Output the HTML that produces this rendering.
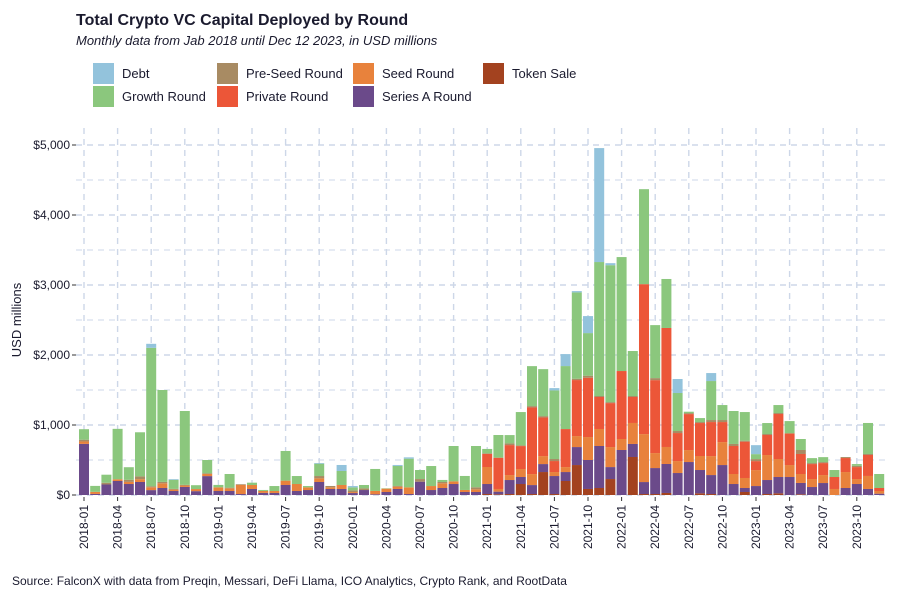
<!DOCTYPE html>
<html><head><meta charset="utf-8">
<style>
body{margin:0;background:#fff;font-family:"Liberation Sans",Arial,sans-serif;}
svg{display:block}
</style></head>
<body>
<svg id="chart" width="900" height="600" xmlns="http://www.w3.org/2000/svg">
<text x="76" y="25" font-size="16" font-weight="bold" fill="#1a1a2e">Total Crypto VC Capital Deployed by Round</text>
<text x="76" y="45" font-size="13" font-style="italic" fill="#1a1a2e">Monthly data from Jab 2018 until Dec 12 2023, in USD millions</text>
<g id="legend"></g>
<g id="grid"></g>
<g id="bars"></g>
<g id="axes"></g>
<text transform="translate(21,320) rotate(-90)" text-anchor="middle" font-size="13" fill="#1a1a2e">USD millions</text>
<text x="12" y="585" font-size="12" fill="#1a1a2e">Source: FalconX with data from Preqin, Messari, DeFi Llama, ICO Analytics, Crypto Rank, and RootData</text>
</svg>
<script>
const seriesNames = ["Debt","Growth Round","Pre-Seed Round","Private Round","Seed Round","Series A Round","Token Sale"];
const seriesColors = ["#93c3dc","#8bc77d","#a88b63","#ec5638","#e8823c","#6b4a8a","#a3421f"];
const debt = [0,0,0,0,0,0,57,0,10,0,0,0, 0,0,0,0,0,0,0,0,0,10,0,86, 19,0,0,0,14,19,0,0,0,0,0,0, 0,0,0,0,0,0,33,171,19,243,1628,29, 0,0,0,0,0,200,0,0,114,0,0,0, 128,0,0,0,0,0,0,0,0,0,0,0];
const growth = [150,85,115,720,180,630,1978,1313,130,1055,55,190, 35,195,0,33,14,71,424,114,19,176,0,200, 43,48,314,5,286,410,129,286,29,505,200,590, 62,324,119,476,571,671,980,900,1233,609,1914,1956, 1628,643,1357,757,700,543,20,57,557,214,471,409, 71,157,114,176,157,71,71,100,0,24,443,200];
const preSeed = [25,0,25,0,30,40,15,20,10,10,0,10, 0,10,10,0,0,0,0,0,0,33,19,0, 24,24,0,0,10,0,38,0,19,0,0,29, 10,0,24,10,19,19,29,0,19,29,14,14, 0,14,0,29,0,29,14,14,29,29,29,14, 29,14,14,0,57,14,14,0,14,19,14,0];
const privateRound = [0,0,0,0,0,0,0,0,0,0,0,0, 0,0,0,0,0,0,0,0,0,0,0,0, 0,0,0,0,0,0,0,0,0,0,0,0, 186,447,428,328,952,552,157,543,800,847,457,628, 971,371,2142,1042,1700,400,514,471,486,286,400,519, 128,286,643,452,286,214,171,171,200,171,300,43];
const seed = [35,30,0,25,30,40,40,67,20,20,30,30, 52,38,130,57,28,28,62,100,38,52,24,57, 14,0,48,48,33,95,0,57,67,38,29,38, 243,38,71,114,157,114,57,71,157,328,243,286, 157,300,685,214,243,171,171,200,271,328,143,143, 228,357,257,171,128,114,114,86,228,71,186,38];
const seriesA = [730,15,150,200,157,186,70,100,57,115,55,270, 57,57,14,86,30,29,143,57,71,186,86,86, 28,71,10,43,86,14,190,71,100,157,43,43, 143,38,200,100,128,114,257,128,257,414,600,171, 643,186,171,371,414,314,471,333,271,428,157,57, 128,200,233,257,162,114,171,0,100,157,86,19];
const tokenSale = [0,0,0,0,0,0,0,0,0,0,0,0, 0,0,0,0,0,0,0,0,0,0,0,0, 0,0,0,0,0,0,0,0,0,0,0,0, 14,10,14,157,14,328,14,200,428,86,100,228, 0,543,14,14,29,0,0,24,14,0,0,43, 0,14,24,0,10,0,0,0,0,0,0,0];
const yTicks = [0,1000,2000,3000,4000,5000];
const yTickLabels = ["$0","$1,000","$2,000","$3,000","$4,000","$5,000"];
const xTickLabels = ["2018-01","2018-04","2018-07","2018-10","2019-01","2019-04","2019-07","2019-10","2020-01","2020-04","2020-07","2020-10","2021-01","2021-04","2021-07","2021-10","2022-01","2022-04","2022-07","2022-10","2023-01","2023-04","2023-07","2023-10"];
const months = [];
for (let y = 2018; y <= 2023; y++) for (let m = 1; m <= 12; m++) months.push(y + "-" + String(m).padStart(2, "0"));

const NS = "http://www.w3.org/2000/svg";
const x0 = 84, pitch = 11.2, barW = 10;
const plotL = 76, plotR = 886, baseY = 495, pxPer = 0.07;
function xPos(i){ return x0 + i * pitch; }
function yPos(v){ return baseY - v * pxPer; }
function mk(tag, attrs, parent){ const e = document.createElementNS(NS, tag); for (const k in attrs) e.setAttribute(k, attrs[k]); parent.appendChild(e); return e; }

// grid
const grid = document.getElementById("grid");
for (let v = 0; v <= 5000; v += 500) {
  const ln = mk("line", {x1: plotL, x2: plotR, y1: yPos(v), y2: yPos(v), stroke: "#cdd7e8", "stroke-width": v % 1000 === 0 ? 1.4 : 1, "stroke-dasharray": "6,5"}, grid);
  
  
}
xTickLabels.forEach((lab) => {
  const i = months.indexOf(lab);
  const ln = mk("line", {x1: xPos(i), x2: xPos(i), y1: 128, y2: baseY, stroke: "#cdd7e8", "stroke-width": 1.4, "stroke-dasharray": "6,5"}, grid);
  
  
});

// bars
const bars = document.getElementById("bars");
const stack = [tokenSale, seriesA, seed, privateRound, preSeed, growth, debt];
const stackIdx = [6,5,4,3,2,1,0];
months.forEach((m, i) => {
  let cum = 0;
  stack.forEach((arr, k) => {
    const v = arr[i];
    if (v <= 0) return;
    const r = mk("rect", {x: xPos(i) - barW/2, y: yPos(cum + v), width: barW, height: v * pxPer, fill: seriesColors[stackIdx[k]]}, bars);
    
    
    cum += v;
  });
});

// axes
const axes = document.getElementById("axes");
yTicks.forEach((v, j) => {
  const t = mk("text", {x: 70, y: yPos(v) + 4, "text-anchor": "end", "font-size": 12, fill: "#1a1a2e"}, axes);
  t.textContent = yTickLabels[j];
  
  
  const tk = mk("line", {x1: 72, x2: 76, y1: yPos(v), y2: yPos(v), stroke: "#333"}, axes);
  
  
});
xTickLabels.forEach((lab) => {
  const i = months.indexOf(lab);
  const tk = mk("line", {x1: xPos(i), x2: xPos(i), y1: 497, y2: 501, stroke: "#333"}, axes);
  
  
  const t = mk("text", {transform: "translate(" + (xPos(i) + 4) + ",505) rotate(-90)", "text-anchor": "end", "font-size": 12, fill: "#1a1a2e"}, axes);
  t.textContent = lab;
  
  
});

// legend
const legend = document.getElementById("legend");
const legendOrder = [0,2,4,6,1,3,5];
const legX = [93,217,353,483];
legendOrder.forEach((s, j) => {
  const col = j < 4 ? j : j - 4;
  const row = j < 4 ? 0 : 1;
  const lx = legX[col], ly = 63 + row * 23;
  const g = mk("g", {}, legend);
  
  
  mk("rect", {x: lx, y: ly, width: 21, height: 21, fill: seriesColors[s]}, g);
  const t = mk("text", {x: lx + 29, y: ly + 15, "font-size": 13, fill: "#1a1a2e"}, g);
  t.textContent = seriesNames[s];
});
</script>
</body></html>
